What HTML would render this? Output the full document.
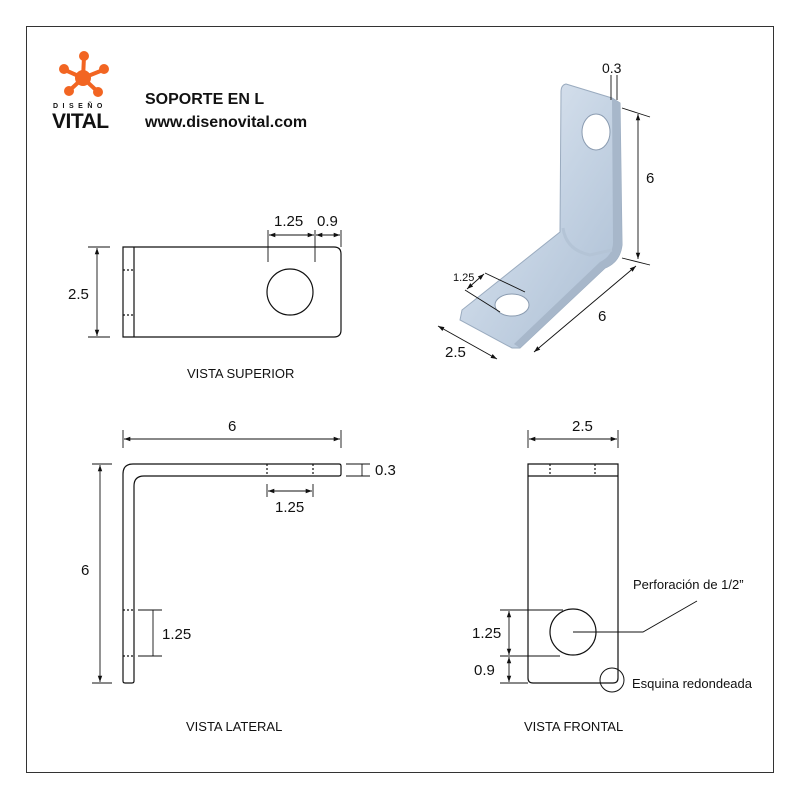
<!DOCTYPE html>
<html><head><meta charset="utf-8"><style>
body{margin:0;background:#fff}
svg{display:block}
text{font-family:"Liberation Sans",sans-serif;fill:#111}
</style></head><body>
<svg width="800" height="800" viewBox="0 0 800 800" xmlns="http://www.w3.org/2000/svg">
<defs>
<marker id="a" viewBox="0 0 10 10" refX="10" refY="5" markerWidth="7" markerHeight="7" orient="auto-start-reverse"><path d="M0,1.5 L10,5 L0,8.5 Z" fill="#111"/></marker>
<linearGradient id="g" x1="0" y1="0" x2="1" y2="1">
<stop offset="0" stop-color="#e8eef6"/><stop offset="0.5" stop-color="#c6d4e4"/><stop offset="1" stop-color="#a9bcd2"/></linearGradient>
</defs>
<rect x="26.5" y="26.5" width="747" height="746" fill="none" stroke="#333" stroke-width="1"/>
<!-- logo -->
<g stroke="#f26522" stroke-width="4" fill="#f26522">
<line x1="83" y1="78" x2="84" y2="57"/><line x1="83" y1="78" x2="103" y2="70"/><line x1="83" y1="78" x2="97" y2="91"/><line x1="83" y1="78" x2="70" y2="90"/><line x1="83" y1="78" x2="65" y2="70"/>
<circle cx="83" cy="78" r="8" stroke="none"/><circle cx="84" cy="56" r="5" stroke="none"/><circle cx="104" cy="69" r="5" stroke="none"/><circle cx="98" cy="92" r="5" stroke="none"/><circle cx="69" cy="91" r="5" stroke="none"/><circle cx="64" cy="69" r="5" stroke="none"/>
</g>
<text x="53" y="108" font-size="7" font-weight="bold" letter-spacing="4.5">DISEÑO</text>
<text x="52" y="128" font-size="21" font-weight="bold" letter-spacing="-0.5">VITAL</text>
<text x="145" y="104" font-size="16" font-weight="bold">SOPORTE EN L</text>
<text x="145" y="127" font-size="16" font-weight="bold">www.disenovital.com</text>
<!-- top view -->
<g fill="none" stroke="#111" stroke-width="1.2">
<path d="M123,247 H334 Q341,247 341,254 V330 Q341,337 334,337 H123 Z"/>
<line x1="134" y1="247" x2="134" y2="337"/>
<line x1="123" y1="270" x2="134" y2="270" stroke-dasharray="2,2"/>
<line x1="123" y1="315" x2="134" y2="315" stroke-dasharray="2,2"/>
<circle cx="290" cy="292" r="23"/>
</g>
<g stroke="#111" stroke-width="0.9" fill="none">
<line x1="97" y1="248" x2="97" y2="336" marker-start="url(#a)" marker-end="url(#a)"/>
<line x1="88" y1="247" x2="110" y2="247"/><line x1="88" y1="337" x2="110" y2="337"/>
<line x1="268" y1="230" x2="268" y2="262"/><line x1="315" y1="230" x2="315" y2="262"/><line x1="341" y1="230" x2="341" y2="247"/>
<line x1="269" y1="235" x2="314" y2="235" marker-start="url(#a)" marker-end="url(#a)"/>
<line x1="316" y1="235" x2="340" y2="235" marker-start="url(#a)" marker-end="url(#a)"/>
</g>
<text x="274" y="226" font-size="15">1.25</text><text x="317" y="226" font-size="15">0.9</text>
<text x="68" y="299" font-size="15">2.5</text>
<text x="187" y="378" font-size="13">VISTA SUPERIOR</text>
<!-- lateral -->
<g fill="none" stroke="#111" stroke-width="1.2">
<path d="M133,464 H339 Q341,464 341,466 V474 Q341,476 339,476 H144 Q134,476 134,486 V681 Q134,683 132,683 H125 Q123,683 123,681 V474 Q123,464 133,464 Z"/>
<line x1="267" y1="464" x2="267" y2="476" stroke-dasharray="2,2"/><line x1="313" y1="464" x2="313" y2="476" stroke-dasharray="2,2"/>
<line x1="123" y1="610" x2="134" y2="610" stroke-dasharray="2,2"/><line x1="123" y1="656" x2="134" y2="656" stroke-dasharray="2,2"/>
</g>
<g stroke="#111" stroke-width="0.9" fill="none">
<line x1="124" y1="439" x2="340" y2="439" marker-start="url(#a)" marker-end="url(#a)"/>
<line x1="123" y1="430" x2="123" y2="448"/><line x1="341" y1="430" x2="341" y2="448"/>
<line x1="100" y1="465" x2="100" y2="682" marker-start="url(#a)" marker-end="url(#a)"/>
<line x1="92" y1="464" x2="112" y2="464"/><line x1="92" y1="683" x2="112" y2="683"/>
<line x1="153" y1="610" x2="153" y2="656"/><line x1="138" y1="610" x2="162" y2="610"/><line x1="138" y1="656" x2="162" y2="656"/>
<line x1="268" y1="491" x2="312" y2="491" marker-start="url(#a)" marker-end="url(#a)"/>
<line x1="267" y1="484" x2="267" y2="497"/><line x1="313" y1="484" x2="313" y2="497"/>
<line x1="346" y1="464" x2="370" y2="464"/><line x1="346" y1="476" x2="370" y2="476"/><line x1="362" y1="464" x2="362" y2="476"/>
</g>
<text x="228" y="431" font-size="15">6</text>
<text x="81" y="575" font-size="15">6</text>
<text x="162" y="639" font-size="15">1.25</text>
<text x="275" y="512" font-size="15">1.25</text>
<text x="375" y="475" font-size="15">0.3</text>
<text x="186" y="731" font-size="13">VISTA LATERAL</text>
<!-- frontal -->
<g fill="none" stroke="#111" stroke-width="1.2">
<path d="M528,464 H618 V678 Q618,683 613,683 H533 Q528,683 528,678 Z"/>
<line x1="528" y1="476" x2="618" y2="476"/>
<line x1="550" y1="464" x2="550" y2="476" stroke-dasharray="2,2"/><line x1="595" y1="464" x2="595" y2="476" stroke-dasharray="2,2"/>
<circle cx="573" cy="632" r="23"/>
<circle cx="612" cy="680" r="12" stroke-width="1"/>
</g>
<g stroke="#111" stroke-width="0.9" fill="none">
<line x1="529" y1="439" x2="617" y2="439" marker-start="url(#a)" marker-end="url(#a)"/>
<line x1="528" y1="430" x2="528" y2="448"/><line x1="618" y1="430" x2="618" y2="448"/>
<line x1="509" y1="611" x2="509" y2="655" marker-start="url(#a)" marker-end="url(#a)"/>
<line x1="509" y1="657" x2="509" y2="682" marker-start="url(#a)" marker-end="url(#a)"/>
<line x1="500" y1="610" x2="563" y2="610"/><line x1="500" y1="656" x2="560" y2="656"/><line x1="500" y1="683" x2="528" y2="683"/>
<polyline points="573,632 643,632 697,601"/>
</g>
<text x="572" y="431" font-size="15">2.5</text>
<text x="472" y="638" font-size="15">1.25</text>
<text x="474" y="675" font-size="15">0.9</text>
<text x="633" y="589" font-size="13">Perforación de 1/2”</text>
<text x="632" y="688" font-size="13">Esquina redondeada</text>
<text x="524" y="731" font-size="13">VISTA FRONTAL</text>
<!-- 3D -->
<path d="M566,84 L612,98 L620,103 L622,245 Q620,262 605,268 L520,348 L512,348 L460,320 L462,310 L560,232 L561,92 Q561,85 566,84 Z" fill="url(#g)" stroke="#9aabbf" stroke-width="1"/>
<path d="M612,98 L620,103 L622,245 Q620,262 605,268 L520,348 L514,344 L600,262 Q614,255 613,240 Z" fill="#a7b7ca"/>
<path d="M563,228 Q566,250 590,255 L612,250" fill="none" stroke="#b4c4d6" stroke-width="3"/>
<ellipse cx="596" cy="132" rx="14" ry="18" fill="#fff" stroke="#8a9bb0"/>
<ellipse cx="512" cy="305" rx="17" ry="11" fill="#fff" stroke="#8a9bb0"/>
<g stroke="#111" stroke-width="0.9" fill="none">
<line x1="611" y1="75" x2="611" y2="100"/><line x1="617" y1="75" x2="617" y2="100"/>
<line x1="638" y1="114" x2="638" y2="259" marker-start="url(#a)" marker-end="url(#a)"/>
<line x1="622" y1="108" x2="650" y2="117"/><line x1="622" y1="258" x2="650" y2="265"/>
<line x1="636" y1="266" x2="534" y2="352" marker-start="url(#a)" marker-end="url(#a)"/>
<line x1="438" y1="326" x2="497" y2="359" marker-start="url(#a)" marker-end="url(#a)"/>
<line x1="484" y1="274" x2="467" y2="289" marker-start="url(#a)" marker-end="url(#a)"/>
<line x1="485" y1="273" x2="525" y2="292"/><line x1="465" y1="290" x2="500" y2="312"/>
</g>
<text x="602" y="73" font-size="14">0.3</text>
<text x="646" y="183" font-size="15">6</text>
<text x="598" y="321" font-size="15">6</text>
<text x="445" y="357" font-size="15">2.5</text>
<text x="453" y="281" font-size="11">1.25</text>
</svg>
</body></html>
